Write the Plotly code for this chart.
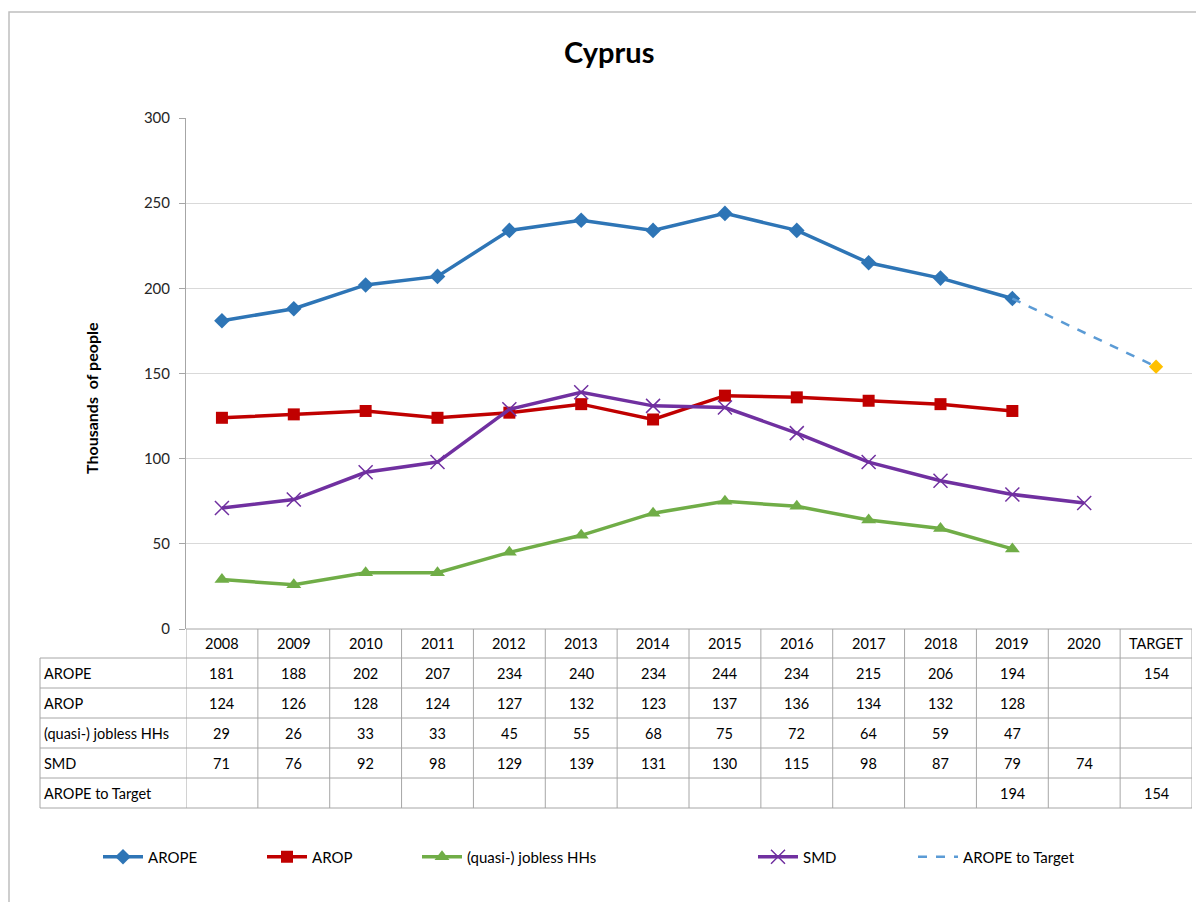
import plotly.graph_objects as go

# ---- data ----
years = ["2008", "2009", "2010", "2011", "2012", "2013", "2014",
         "2015", "2016", "2017", "2018", "2019", "2020", "TARGET"]
arope = [181, 188, 202, 207, 234, 240, 234, 244, 234, 215, 206, 194, None, None]
arop = [124, 126, 128, 124, 127, 132, 123, 137, 136, 134, 132, 128, None, None]
jobless = [29, 26, 33, 33, 45, 55, 68, 75, 72, 64, 59, 47, None, None]
smd = [71, 76, 92, 98, 129, 139, 131, 130, 115, 98, 87, 79, 74, None]
target_x = ["2019", "TARGET"]
target_y = [194, 154]

series_names = ["AROPE", "AROP", "(quasi-) jobless HHs", "SMD", "AROPE to Target"]

# page has an 8px body margin, so the figure is drawn 8px smaller and
# positions below are given in page pixels
OFF = 8
W, H = 1204 - OFF, 902 - OFF
FONT = "Lato, 'Open Sans', Arial, sans-serif"


def px(x):
    return (x - OFF) / W


def py(y):
    return 1 - (y - OFF) / H


fig = go.Figure()

fig.add_trace(go.Scatter(
    x=years, y=arope, name=series_names[0], mode="lines+markers",
    line=dict(color="#2E75B6", width=3.5),
    marker=dict(symbol="diamond", size=12, color="#2E75B6"),
    legend="legend",
))
fig.add_trace(go.Scatter(
    x=years, y=arop, name=series_names[1], mode="lines+markers",
    line=dict(color="#C00000", width=3.5),
    marker=dict(symbol="square", size=12, color="#C00000"),
    legend="legend2",
))
fig.add_trace(go.Scatter(
    x=years, y=jobless, name=series_names[2], mode="lines+markers",
    line=dict(color="#70AD47", width=3.5),
    marker=dict(symbol="triangle-up", size=13, color="#70AD47"),
    legend="legend3",
))
fig.add_trace(go.Scatter(
    x=years, y=smd, name=series_names[3], mode="lines+markers",
    line=dict(color="#7030A0", width=3.5),
    marker=dict(symbol="x-thin-open", size=14,
                line=dict(color="#A77BD0", width=1.5)),
    legend="legend4",
))
fig.add_trace(go.Scatter(
    x=target_x, y=target_y, name=series_names[4], mode="lines",
    line=dict(color="#5B9BD5", width=2.5, dash="dash"),
    legend="legend5",
))
fig.add_trace(go.Scatter(
    x=target_x[-1:], y=target_y[-1:], mode="markers", showlegend=False,
    marker=dict(symbol="diamond", size=11, color="#FFC000"),
))

# ---- data table under the chart ----
row_tops = [629, 658, 688, 718, 748, 778, 808]
grid = "#A6A6A6"
shapes = []
shapes.append(dict(type="line", xref="x", yref="paper", x0=-0.5, x1=len(years) - 0.5,
                   y0=py(row_tops[0]), y1=py(row_tops[0]), line=dict(color=grid, width=1)))
for yy in row_tops[1:]:
    shapes.append(dict(type="line", xref="paper", yref="paper", x0=px(40), x1=px(1192),
                       y0=py(yy), y1=py(yy), line=dict(color=grid, width=1)))
for i in range(len(years) + 1):
    shapes.append(dict(type="line", xref="x", yref="paper", x0=i - 0.5, x1=i - 0.5,
                       y0=py(row_tops[0]), y1=py(row_tops[-1]), line=dict(color=grid, width=1)))
shapes.append(dict(type="line", xref="paper", yref="paper", x0=px(40), x1=px(40),
                   y0=py(row_tops[1]), y1=py(row_tops[-1]), line=dict(color=grid, width=1)))
# outer chart border (only top/left edges fall inside the picture)
shapes.append(dict(type="rect", xref="paper", yref="paper", x0=px(9), x1=px(1240),
                   y0=py(940), y1=py(12), line=dict(color="#BFBFBF", width=1.5)))

annotations = []
cell_font = dict(family=FONT, size=14.5, color="#000000")


def cell(i, yc, text):
    return dict(xref="x", yref="paper", x=i, y=yc, xanchor="center", yanchor="middle",
                text=text, showarrow=False, font=cell_font)


for i, yr in enumerate(years):
    annotations.append(cell(i, py((row_tops[0] + row_tops[1]) / 2), yr))

target_row = [None] * len(years)
target_row[years.index("2019")] = target_y[0]
target_row[years.index("TARGET")] = target_y[1]
arope_row = list(arope)
arope_row[years.index("TARGET")] = target_y[1]
rows = [arope_row, arop, jobless, smd, target_row]

for r, (label, vals) in enumerate(zip(series_names, rows)):
    yc = py((row_tops[r + 1] + row_tops[r + 2]) / 2)
    annotations.append(dict(xref="paper", yref="paper", x=px(42), y=yc,
                            xanchor="left", yanchor="middle",
                            text=label, showarrow=False, font=cell_font))
    for i, v in enumerate(vals):
        if v is not None:
            annotations.append(cell(i, yc, str(v)))

annotations.append(dict(xref="paper", yref="paper", x=px(92), y=py(398),
                        xanchor="center", yanchor="middle",
                        text="<b>Thousands  of people</b>", textangle=-90, showarrow=False,
                        font=dict(family=FONT, size=16, color="#000000")))
annotations.append(dict(xref="paper", yref="paper", x=px(609), y=py(52),
                        xanchor="center", yanchor="middle",
                        text="<b>Cyprus</b>", showarrow=False,
                        font=dict(family=FONT, size=29, color="#000000")))

legend_base = dict(orientation="h", yanchor="middle", y=py(857), xanchor="left",
                   bgcolor="rgba(0,0,0,0)", font=dict(family=FONT, size=15, color="#000000"),
                   itemwidth=40)
legend_x = [98, 262, 417, 753, 913]

fig.update_layout(
    width=W, height=H,
    margin=dict(l=0, r=0, t=0, b=0, autoexpand=False),
    paper_bgcolor="white", plot_bgcolor="white",
    font=dict(family=FONT, size=14, color="#000000"),
    xaxis=dict(type="category", categoryorder="array", categoryarray=years,
               range=[-0.5, len(years) - 0.5], domain=[px(186), px(1192)],
               showticklabels=False, showgrid=False, showline=False, zeroline=False,
               automargin=False),
    yaxis=dict(range=[0, 300], dtick=50, domain=[py(629), py(118)],
               gridcolor="#D9D9D9", gridwidth=1, zeroline=False,
               showline=True, linecolor="#A6A6A6", linewidth=1,
               ticks="outside", ticklen=6, tickcolor="#A6A6A6", automargin=False,
               ticklabelstandoff=6,
               tickfont=dict(family=FONT, size=15, color="#262626")),
    legend=dict(legend_base, x=px(legend_x[0])),
    legend2=dict(legend_base, x=px(legend_x[1])),
    legend3=dict(legend_base, x=px(legend_x[2])),
    legend4=dict(legend_base, x=px(legend_x[3])),
    legend5=dict(legend_base, x=px(legend_x[4])),
    shapes=shapes,
    annotations=annotations,
)

fig.write_html("out.html")
